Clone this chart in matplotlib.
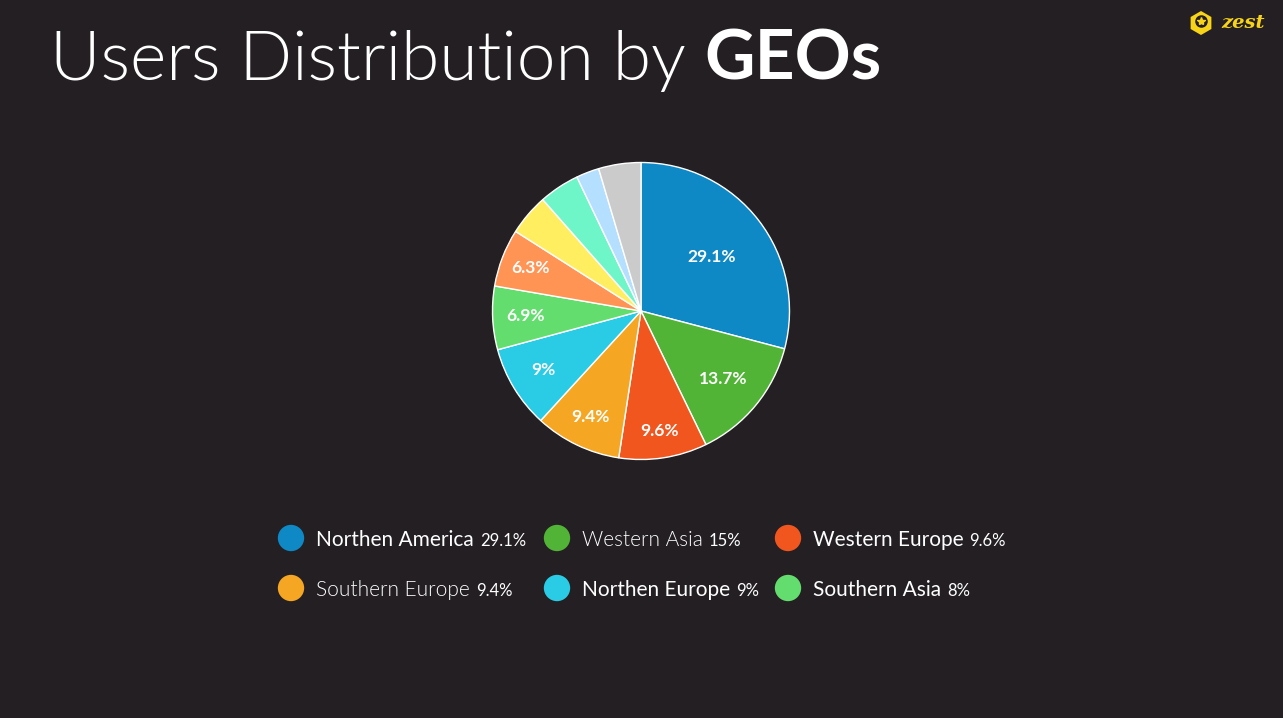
import matplotlib
matplotlib.use("Agg")
import numpy as np
import matplotlib.pyplot as plt
from matplotlib.patches import RegularPolygon

# ---- data ----
slice_values = [29.1, 13.7, 9.6, 9.4, 9.0, 6.9, 6.3, 4.5, 4.4, 2.5, 4.6]
slice_labels = ["29.1%", "13.7%", "9.6%", "9.4%", "9%", "6.9%", "6.3%", "", "", "", ""]
slice_colors = ["#0E89C6", "#52B436", "#F0561E", "#F5A623", "#2ACBE4", "#63DD6E",
                "#FF9455", "#FFEE60", "#6EF5C8", "#B5DFFF", "#CBCBCB"]

legend_names = ["Northen America", "Western Asia", "Western Europe",
                "Southern Europe", "Northen Europe", "Southern Asia"]
legend_pcts = ["29.1%", "15%", "9.6%", "9.4%", "9%", "8%"]
legend_colors = ["#0E89C6", "#52B436", "#F0561E", "#F5A623", "#2ACBE4", "#63DD6E"]
legend_light = [False, True, False, True, False, False]

title_regular = "Users Distribution by "
title_bold = "GEOs"

# label radial distance (fraction of radius), styling only
label_dist = [0.6, 0.72, 0.82, 0.79, 0.77, 0.78, 0.8, 0.75, 0.75, 0.75, 0.75]

BG = "#231F23"
W, H = 1283, 718
fig = plt.figure(figsize=(W / 100, H / 100), dpi=100, facecolor=BG)

# ---- pie ----
cx, cy, r = 641, 311, 150
ax = fig.add_axes([(cx - r) / W, (H - cy - r) / H, 2 * r / W, 2 * r / H])
ax.set_facecolor(BG)
wedges, _ = ax.pie(slice_values, colors=slice_colors,
                   startangle=90, counterclock=False, radius=0.99,
                   wedgeprops=dict(edgecolor="white", linewidth=1.0))
for w, lab, d in zip(wedges, slice_labels, label_dist):
    if not lab:
        continue
    ang = np.deg2rad((w.theta1 + w.theta2) / 2)
    ax.text(d * w.r * np.cos(ang), d * w.r * np.sin(ang), lab, color="white",
            fontsize=12.5, fontweight="bold", family="Lato", ha="center", va="center")
ax.set_xlim(-1, 1)
ax.set_ylim(-1, 1)
ax.set_aspect("equal")
ax.axis("off")

# ---- overlay in pixel coords ----
ov = fig.add_axes([0, 0, 1, 1])
ov.set_xlim(0, W)
ov.set_ylim(H, 0)
ov.axis("off")

# title
t1 = ov.text(50, 80, title_regular, fontsize=50, color="white", family="Lato",
             fontweight=300, va="baseline", ha="left")
fig.canvas.draw()
rend = fig.canvas.get_renderer()
bb = t1.get_window_extent(rend)
ov.text(bb.x1, 80, title_bold, fontsize=50, color="white", family="Lato",
        fontweight="bold", va="baseline", ha="left")

# logo
ov.add_patch(RegularPolygon((1201, 23), numVertices=6, radius=12, orientation=0,
                            facecolor="#F7D417", edgecolor="none"))
ov.plot([1201], [21], marker="o", ms=8, mfc="#231F23", mec="#231F23")
ov.plot([1201], [21], marker="*", ms=6, mfc="#F7D417", mec="#F7D417")
ov.text(1221, 28, "zest", fontsize=14, color="#F7D417", family="DejaVu Serif",
        style="italic", fontweight="bold", va="baseline", ha="left")

# legend
col_x = [291, 557, 788]
row_y = [538, 588]
for i, (name, pct, col, light) in enumerate(zip(legend_names, legend_pcts,
                                                 legend_colors, legend_light)):
    x = col_x[i % 3]
    y = row_y[i // 3]
    ov.scatter([x], [y], s=360, color=col, edgecolors="none")
    tn = ov.text(x + 25, y + 8, name, fontsize=15, color="white", family="Lato",
                 fontweight=300 if light else "normal", va="baseline", ha="left")
    fig.canvas.draw()
    b = tn.get_window_extent(rend)
    ov.text(b.x1 + 6, y + 8, pct, fontsize=12, color="white", family="Lato",
            va="baseline", ha="left")

fig.savefig("out.png", dpi=100, facecolor=BG)
